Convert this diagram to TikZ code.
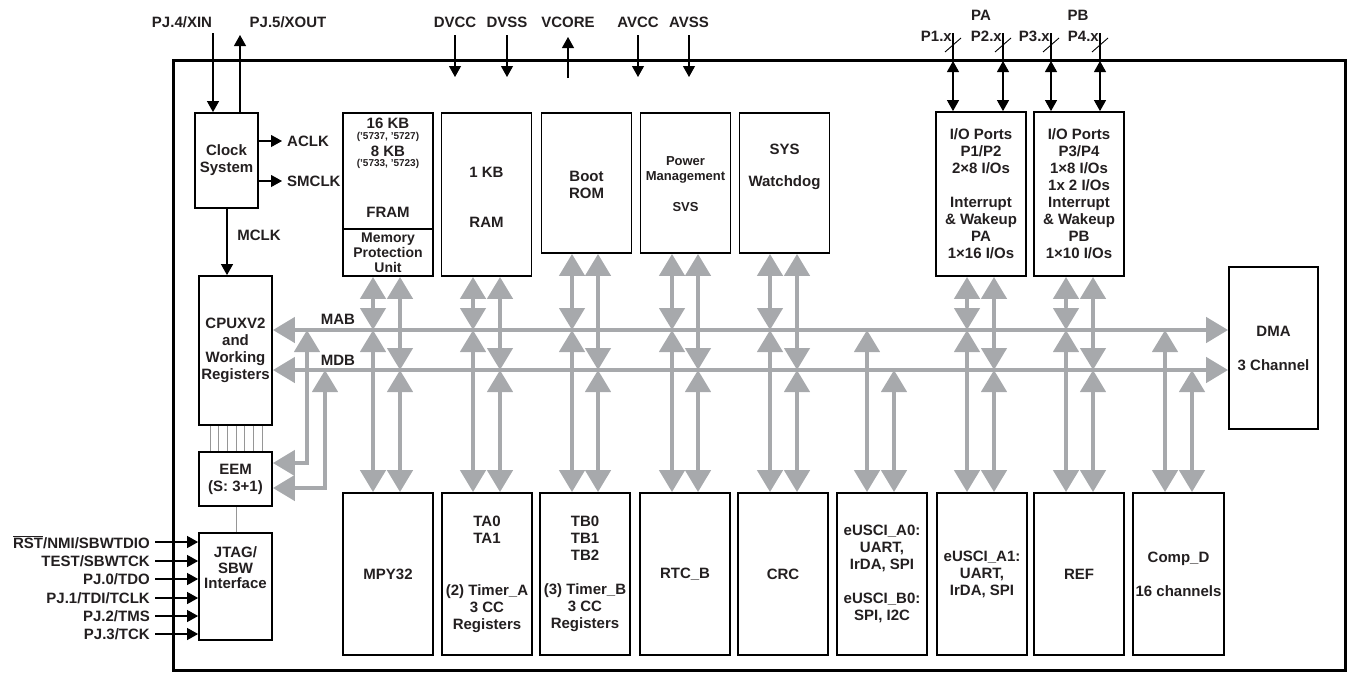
\documentclass[tikz,border=0pt]{standalone}
\usepackage{fontspec}
\setmainfont{Liberation Sans}
\usetikzlibrary{arrows.meta}
\definecolor{busgray}{RGB}{167,169,172}
\definecolor{txtc}{RGB}{35,31,32}
\definecolor{thingray}{RGB}{150,150,150}
\tikzset{
 txt/.style={font=\fontsize{15}{17}\selectfont\bfseries, text=txtc, inner sep=0pt, align=center},
 smalltxt/.style={txt, font=\fontsize{10}{12}\selectfont\bfseries},
 blk/.style={draw=black, line width=1.8pt, inner sep=0pt, txt},
 topblk/.style={blk, minimum width=90pt},
 botblk/.style={blk, minimum width=90pt, minimum height=162pt},
 sig/.style={draw=black, line width=1.1pt, -{Triangle[width=12pt,length=11pt]}},
 sigboth/.style={draw=black, line width=1.1pt, {Triangle[width=12pt,length=11pt]}-{Triangle[width=12pt,length=11pt]}},
 plainsig/.style={draw=black, line width=1.1pt},
 bus/.style={draw=busgray, line width=4.5pt},
 busarr/.style={bus, {Triangle[width=25pt,length=22pt]}-{Triangle[width=25pt,length=22pt]}},
 thinln/.style={draw=thingray, line width=0.8pt},
}
\begin{document}
\begin{tikzpicture}[x=1pt,y=-1pt]
\useasboundingbox (0,0) rectangle (1349,673);
% chip outline
\node[draw=black, line width=3pt, minimum width=1172pt, minimum height=610pt, inner sep=0pt] (chip) at (759,365) {};

% top row
\node[blk, minimum width=63pt, minimum height=95pt] (clk) at (226.5,160.5) {Clock\\System};
\node[blk, minimum width=90pt, minimum height=116pt] (fram) at (388,171) {};
\node[blk, minimum width=90pt, minimum height=47pt, font=\fontsize{14}{15}\selectfont\bfseries] (mpu) at (388,252.5) {Memory\\Protection\\Unit};
\node[topblk, minimum height=163pt] (ram) at (486.5,194.5) {};
\node[topblk, minimum height=140pt] (boot) at (586.5,183) {};
\node[topblk, minimum height=140pt] (pwr) at (685.5,183) {};
\node[topblk, minimum height=140pt] (sys) at (784.5,183) {};
\node[topblk, minimum height=164pt] (io1) at (981,194) {I/O Ports\\P1/P2\\2×8 I/Os\\[17pt]Interrupt\\\& Wakeup\\PA\\1×16 I/Os};
\node[topblk, minimum height=164pt] (io2) at (1079,194) {I/O Ports\\P3/P4\\1×8 I/Os\\1x 2 I/Os\\Interrupt\\\& Wakeup\\PB\\1×10 I/Os};

% texts of top row
\node[txt] (t16) at (388,123) {16 KB};
\node[smalltxt] (t5737) at (388,137) {('5737, '5727)};
\node[txt] (t8) at (388,151) {8 KB};
\node[smalltxt] (t5733) at (388,164) {('5733, '5723)};
\node[txt] (tfram) at (388,212) {FRAM};
\node[txt] (t1kb) at (486.5,172) {1 KB};
\node[txt] (tram) at (486.5,222) {RAM};
\node[txt] (tboot) at (586.5,185) {Boot\\ROM};
\node[txt, font=\fontsize{13}{15.5}\selectfont\bfseries] (tpwr) at (685.5,184) {Power\\Management\\[15.5pt]SVS};
\node[txt] (tsys) at (784.5,149) {SYS};
\node[txt] (twd) at (784.5,183) {Watchdog};

% left column
\node[blk, minimum width=73pt, minimum height=149pt] (cpu) at (235.5,350.5) {CPUXV2\\and\\Working\\Registers};
\node[blk, minimum width=73pt, minimum height=54pt] (eem) at (235.5,479) {EEM\\(S: 3+1)};
\node[blk, minimum width=73pt, minimum height=107pt] (jtag) at (235.5,586.5) {};
\node[txt, font=\fontsize{15}{15.5}\selectfont\bfseries] (tjtag) at (235.5,568) {JTAG/\\SBW\\Interface};

% DMA
\node[blk, minimum width=89pt, minimum height=162pt] (dma) at (1273.5,348) {DMA\\[17pt]3 Channel};

% bottom row
\node[botblk] (mpy) at (388,574) {MPY32};
\node[botblk] (ta) at (487,574) {TA0\\TA1\\[35pt](2) Timer\_A\\3 CC\\Registers};
\node[botblk] (tb) at (585,574) {TB0\\TB1\\TB2\\[17pt](3) Timer\_B\\3 CC\\Registers};
\node[botblk] (rtc) at (685,574) {RTC\_B};
\node[botblk] (crc) at (783,574) {CRC};
\node[botblk] (usa0) at (882,574) {eUSCI\_A0:\\UART,\\IrDA, SPI\\[17pt]eUSCI\_B0:\\SPI, I2C};
\node[botblk] (usa1) at (982,574) {eUSCI\_A1:\\UART,\\IrDA, SPI};
\node[botblk] (ref) at (1079,574) {REF};
\node[botblk, minimum width=91pt] (comp) at (1178.5,574) {Comp\_D\\[17pt]16 channels};

% buses
\coordinate (mab) at (0,330);
\coordinate (mdb) at (0,370);
\draw[busarr] (cpu.east |- mab) -- (dma.west |- mab);
\draw[busarr] (cpu.east |- mdb) -- (dma.west |- mdb);
\node[txt] (tmab) at (338,319) {MAB};
\node[txt] (tmdb) at (338,360) {MDB};

% EEM links
\draw[busarr] (307,0 |- mab) -- (307,463) -- (eem.east |- 0,463);
\draw[busarr] (325,0 |- mdb) -- (325,488) -- (eem.east |- 0,488);

% vertical bus arrows
\foreach \x/\t/\b in {373/mpu/mpy, 473/ram/ta, 572/boot/tb, 672/pwr/rtc, 770/sys/crc, 967/io1/usa1, 1066/io2/ref}{
  \draw[busarr] (\t.south -| \x,0) -- (\x,0 |- mab);
  \draw[busarr] (\x,0 |- mab) -- (\b.north -| \x,0);
}
\foreach \x/\t/\b in {400/mpu/mpy, 500/ram/ta, 598/boot/tb, 698/pwr/rtc, 797/sys/crc, 994/io1/usa1, 1093/io2/ref}{
  \draw[busarr] (\t.south -| \x,0) -- (\x,0 |- mdb);
  \draw[busarr] (\x,0 |- mdb) -- (\b.north -| \x,0);
}
\foreach \x/\b in {867/usa0, 1165/comp}{
  \draw[busarr] (\x,0 |- mab) -- (\b.north -| \x,0);
}
\foreach \x/\b in {894/usa0, 1192/comp}{
  \draw[busarr] (\x,0 |- mdb) -- (\b.north -| \x,0);
}

% CPU - EEM - JTAG thin lines
\foreach \i [evaluate=\i as \xx using 210+\i*8.67] in {0,...,6}{
  \draw[thinln] (cpu.south -| \xx,0) -- (eem.north -| \xx,0);
}
\draw[thinln] (eem.south -| 236,0) -- (jtag.north -| 236,0);

% clock signals
\node[txt] (xinl) at (182,22) {PJ.4/XIN};
\node[txt] (xoutl) at (288,22) {PJ.5/XOUT};
\coordinate (xintop) at (213,33);
\coordinate (xouttop) at (240,35);
\draw[sig] (xintop) -- (clk.north -| xintop);
\draw[sig] (clk.north -| xouttop) -- (xouttop);
\coordinate (aclkend) at (282,141);
\coordinate (smclkend) at (282,181);
\draw[sig] (clk.east |- aclkend) -- (aclkend);
\draw[sig] (clk.east |- smclkend) -- (smclkend);
\node[txt, anchor=west] (taclk) at (287,141) {ACLK};
\node[txt, anchor=west] (tsmclk) at (287,181) {SMCLK};
\draw[sig] (clk.south -| 227,0) -- (cpu.north -| 227,0);
\node[txt] (tmclk) at (259,235) {MCLK};

% supply pins
\foreach \n/\x in {DVCC/455, DVSS/507, AVCC/638, AVSS/689}{
  \node[txt] (p\n) at (\x,22) {\n};
  \draw[sig] (\x,35) -- (\x,77);
}
\node[txt] (pvcore) at (568,22) {VCORE};
\draw[sig] (568,78) -- (568,37);

% port pins
\node[txt] (tpa) at (981,15) {PA};
\node[txt] (tpb) at (1078,15) {PB};
\foreach \x/\lab/\bk in {953/P1.x/io1, 1003/P2.x/io1, 1051/P3.x/io2, 1100/P4.x/io2}{
  \draw[plainsig] (\x,33) -- (\x,61);
  \draw[sigboth] (\x,61) -- (\bk.north -| \x,0);
  \draw[draw=black, line width=0.9pt] (\x-8,52) -- (\x+8,38);
  \node[txt, anchor=east] at (\x-1,36) {\lab};
}

% JTAG pins
\foreach \y/\lab in {542/{$\overline{\mbox{RST}}$/NMI/SBWTDIO}, 561/{TEST/SBWTCK}, 579/{PJ.0/TDO}, 598/{PJ.1/TDI/TCLK}, 616/{PJ.2/TMS}, 634/{PJ.3/TCK}}{
  \node[txt, anchor=east] at (150,\y) {\lab};
  \draw[sig] (155,\y) -- (jtag.west |- 0,\y);
}
\end{tikzpicture}
\end{document}
